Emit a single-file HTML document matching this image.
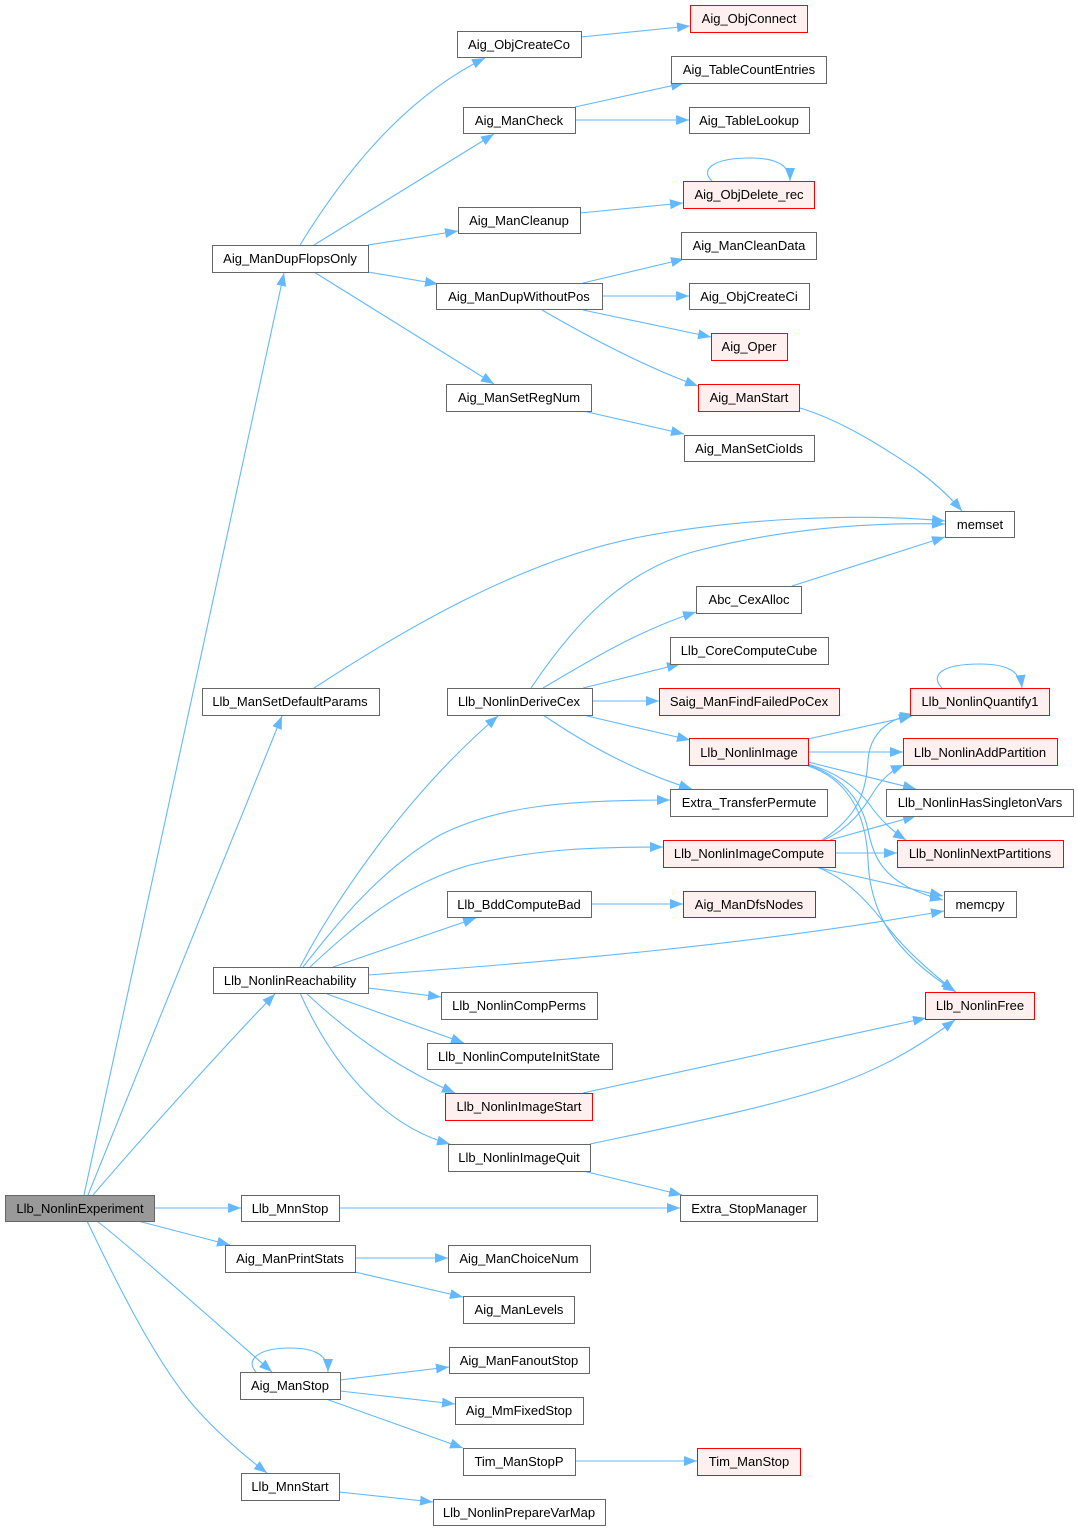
<!DOCTYPE html>
<html><head><meta charset="utf-8"><style>
html,body{margin:0;padding:0;background:#fff;}
svg{display:block;}
text{font-family:"Liberation Sans",Arial,sans-serif;font-size:13px;fill:#000;text-anchor:middle;}
.n{fill:#fff;stroke:#666;stroke-width:1;}
.r{fill:#fff0f0;stroke:#ff0000;stroke-width:1;}
.g{fill:#999;stroke:#666;stroke-width:1;}
.e{fill:none;stroke:#63b8ff;stroke-width:1.1;marker-end:url(#a);}
</style></head><body>
<svg width="1078" height="1531" viewBox="0 0 1078 1531" xmlns="http://www.w3.org/2000/svg">
<defs><marker id="a" markerUnits="userSpaceOnUse" markerWidth="14" markerHeight="11" refX="13" refY="5.5" orient="auto"><path d="M0,0.5 L13,5.5 L0,10.5 z" fill="#63b8ff"/></marker></defs>
<g>
<path class="e" d="M84,1195 L284,273"/>
<path class="e" d="M88,1195 L282,716"/>
<path class="e" d="M93,1195 C140,1140 230,1040 275,994"/>
<path class="e" d="M154,1208 L241,1208"/>
<path class="e" d="M138,1221 L230,1245"/>
<path class="e" d="M97,1221 C140,1255 230,1335 272,1372"/>
<path class="e" d="M87,1221 C120,1290 160,1370 200,1413 C225,1440 250,1460 267,1473"/>
<path class="e" d="M300,245 C340,180 400,100 485,58"/>
<path class="e" d="M314,245 L494,134"/>
<path class="e" d="M368,245 L458,231"/>
<path class="e" d="M368,272 L438,284"/>
<path class="e" d="M314,272 L494,384"/>
<path class="e" d="M581,37 L690,26"/>
<path class="e" d="M575,107 L684,83"/>
<path class="e" d="M575,120 L689,120"/>
<path class="e" d="M580,213 L683,203"/>
<path class="e" d="M712,181 C700,170 712,158 750,158 C775,158 790,165 790,181"/>
<path class="e" d="M583,283 L684,259"/>
<path class="e" d="M602,296 L689,296"/>
<path class="e" d="M583,310 L711,337"/>
<path class="e" d="M542,310 C580,332 640,365 698,386"/>
<path class="e" d="M583,411 L684,434"/>
<path class="e" d="M800,408 C840,420 880,445 917,470 C935,483 950,497 962,511"/>
<path class="e" d="M314,688 C400,632 520,560 640,537 C740,518 860,513 945,521"/>
<path class="e" d="M531,688 C570,630 620,570 700,550 C780,530 860,522 945,524"/>
<path class="e" d="M792,586 L945,537"/>
<path class="e" d="M543,688 C590,660 640,630 696,612"/>
<path class="e" d="M583,688 L680,664"/>
<path class="e" d="M592,701 L659,701"/>
<path class="e" d="M583,715 L690,740"/>
<path class="e" d="M543,715 C580,740 630,770 692,789"/>
<path class="e" d="M808,739 L912,716"/>
<path class="e" d="M808,752 L903,752"/>
<path class="e" d="M808,762 L916,789"/>
<path class="e" d="M808,764 C835,772 855,785 870,805 C880,820 895,833 906,840"/>
<path class="e" d="M808,765 C840,775 862,800 868,830 C874,860 885,885 943,900"/>
<path class="e" d="M808,766 C845,778 866,810 868,860 C870,910 890,950 956,992"/>
<path class="e" d="M822,840 C860,815 866,790 868,760 C870,735 885,720 913,714"/>
<path class="e" d="M824,840 C855,825 865,805 875,790 C883,778 892,770 904,765"/>
<path class="e" d="M830,840 L916,816"/>
<path class="e" d="M835,853 L897,853"/>
<path class="e" d="M815,867 L943,896"/>
<path class="e" d="M817,867 C850,880 870,905 890,930 C910,955 935,975 954,991"/>
<path class="e" d="M942,688 C930,676 940,664 980,664 C1005,664 1020,670 1022,688"/>
<path class="e" d="M300,967 C330,910 400,800 498,716"/>
<path class="e" d="M303,967 C340,920 380,870 440,835 C500,805 570,800 670,800"/>
<path class="e" d="M310,967 C350,930 400,885 470,865 C540,848 600,847 663,847"/>
<path class="e" d="M333,967 L476,918"/>
<path class="e" d="M368,975 C550,962 750,945 944,911"/>
<path class="e" d="M368,988 L441,997"/>
<path class="e" d="M327,994 L464,1043"/>
<path class="e" d="M306,993 C340,1025 390,1065 455,1093"/>
<path class="e" d="M300,993 C330,1060 380,1125 450,1144"/>
<path class="e" d="M591,904 L683,904"/>
<path class="e" d="M583,1093 L926,1018"/>
<path class="e" d="M590,1144 C680,1125 780,1105 840,1083 C890,1065 925,1042 955,1020"/>
<path class="e" d="M583,1171 L682,1195"/>
<path class="e" d="M339,1208 L680,1208"/>
<path class="e" d="M355,1258 L448,1258"/>
<path class="e" d="M355,1272 L463,1297"/>
<path class="e" d="M340,1380 L449,1367"/>
<path class="e" d="M340,1391 L455,1404"/>
<path class="e" d="M326,1399 L463,1448"/>
<path class="e" d="M256,1372 C245,1360 258,1348 290,1348 C315,1348 328,1355 328,1372"/>
<path class="e" d="M575,1461 L697,1461"/>
<path class="e" d="M339,1492 L433,1502"/>
</g>
<g>
<rect class="r" x="690.5" y="5.5" width="117" height="27"/><text x="749" y="23">Aig_ObjConnect</text>
<rect class="n" x="457.5" y="31.5" width="124" height="26"/><text x="519" y="49">Aig_ObjCreateCo</text>
<rect class="n" x="671.5" y="56.5" width="155" height="27"/><text x="749" y="74">Aig_TableCountEntries</text>
<rect class="n" x="463.5" y="107.5" width="112" height="26"/><text x="519" y="125">Aig_ManCheck</text>
<rect class="n" x="689.5" y="107.5" width="120" height="26"/><text x="749" y="125">Aig_TableLookup</text>
<rect class="r" x="683.5" y="181.5" width="131" height="27"/><text x="749" y="199">Aig_ObjDelete_rec</text>
<rect class="n" x="458.5" y="207.5" width="122" height="26"/><text x="519" y="225">Aig_ManCleanup</text>
<rect class="n" x="681.5" y="232.5" width="135" height="27"/><text x="749" y="250">Aig_ManCleanData</text>
<rect class="n" x="212.5" y="245.5" width="156" height="27"/><text x="290" y="263">Aig_ManDupFlopsOnly</text>
<rect class="n" x="436.5" y="283.5" width="166" height="26"/><text x="519" y="301">Aig_ManDupWithoutPos</text>
<rect class="n" x="689.5" y="283.5" width="120" height="26"/><text x="749" y="301">Aig_ObjCreateCi</text>
<rect class="r" x="711.5" y="333.5" width="76" height="27"/><text x="749" y="351">Aig_Oper</text>
<rect class="n" x="446.5" y="384.5" width="145" height="27"/><text x="519" y="402">Aig_ManSetRegNum</text>
<rect class="r" x="698.5" y="384.5" width="101" height="27"/><text x="749" y="402">Aig_ManStart</text>
<rect class="n" x="684.5" y="435.5" width="130" height="26"/><text x="749" y="453">Aig_ManSetCioIds</text>
<rect class="n" x="945.5" y="511.5" width="69" height="26"/><text x="980" y="529">memset</text>
<rect class="n" x="696.5" y="586.5" width="105" height="27"/><text x="749" y="604">Abc_CexAlloc</text>
<rect class="n" x="670.5" y="637.5" width="158" height="27"/><text x="749" y="655">Llb_CoreComputeCube</text>
<rect class="n" x="202.5" y="688.5" width="177" height="27"/><text x="290" y="706">Llb_ManSetDefaultParams</text>
<rect class="n" x="447.5" y="688.5" width="145" height="27"/><text x="519" y="706">Llb_NonlinDeriveCex</text>
<rect class="r" x="659.5" y="688.5" width="180" height="27"/><text x="749" y="706">Saig_ManFindFailedPoCex</text>
<rect class="r" x="910.5" y="688.5" width="139" height="27"/><text x="980" y="706">Llb_NonlinQuantify1</text>
<rect class="r" x="689.5" y="738.5" width="119" height="27"/><text x="749" y="757">Llb_NonlinImage</text>
<rect class="r" x="903.5" y="738.5" width="154" height="27"/><text x="980" y="757">Llb_NonlinAddPartition</text>
<rect class="n" x="670.5" y="789.5" width="157" height="27"/><text x="749" y="807">Extra_TransferPermute</text>
<rect class="n" x="886.5" y="789.5" width="187" height="27"/><text x="980" y="807">Llb_NonlinHasSingletonVars</text>
<rect class="r" x="663.5" y="840.5" width="172" height="27"/><text x="749" y="858">Llb_NonlinImageCompute</text>
<rect class="r" x="897.5" y="840.5" width="166" height="27"/><text x="980" y="858">Llb_NonlinNextPartitions</text>
<rect class="n" x="447.5" y="891.5" width="144" height="26"/><text x="519" y="909">Llb_BddComputeBad</text>
<rect class="r" x="683.5" y="891.5" width="132" height="26"/><text x="749" y="909">Aig_ManDfsNodes</text>
<rect class="n" x="944.5" y="891.5" width="72" height="26"/><text x="980" y="909">memcpy</text>
<rect class="n" x="213.5" y="967.5" width="155" height="26"/><text x="290" y="985">Llb_NonlinReachability</text>
<rect class="n" x="441.5" y="992.5" width="156" height="27"/><text x="519" y="1010">Llb_NonlinCompPerms</text>
<rect class="r" x="925.5" y="992.5" width="109" height="27"/><text x="980" y="1010">Llb_NonlinFree</text>
<rect class="n" x="427.5" y="1043.5" width="185" height="26"/><text x="519" y="1061">Llb_NonlinComputeInitState</text>
<rect class="r" x="445.5" y="1093.5" width="147" height="27"/><text x="519" y="1111">Llb_NonlinImageStart</text>
<rect class="n" x="448.5" y="1144.5" width="142" height="27"/><text x="519" y="1162">Llb_NonlinImageQuit</text>
<rect class="g" x="5.5" y="1195.5" width="149" height="26"/><text x="80" y="1213">Llb_NonlinExperiment</text>
<rect class="n" x="241.5" y="1195.5" width="98" height="26"/><text x="290" y="1213">Llb_MnnStop</text>
<rect class="n" x="680.5" y="1195.5" width="137" height="26"/><text x="749" y="1213">Extra_StopManager</text>
<rect class="n" x="225.5" y="1245.5" width="130" height="27"/><text x="290" y="1263">Aig_ManPrintStats</text>
<rect class="n" x="448.5" y="1245.5" width="142" height="27"/><text x="519" y="1263">Aig_ManChoiceNum</text>
<rect class="n" x="463.5" y="1296.5" width="111" height="27"/><text x="519" y="1314">Aig_ManLevels</text>
<rect class="n" x="449.5" y="1347.5" width="140" height="26"/><text x="519" y="1365">Aig_ManFanoutStop</text>
<rect class="n" x="240.5" y="1372.5" width="100" height="27"/><text x="290" y="1390">Aig_ManStop</text>
<rect class="n" x="455.5" y="1397.5" width="128" height="27"/><text x="519" y="1415">Aig_MmFixedStop</text>
<rect class="n" x="463.5" y="1448.5" width="112" height="27"/><text x="519" y="1466">Tim_ManStopP</text>
<rect class="r" x="697.5" y="1448.5" width="103" height="27"/><text x="749" y="1466">Tim_ManStop</text>
<rect class="n" x="241.5" y="1473.5" width="98" height="27"/><text x="290" y="1491">Llb_MnnStart</text>
<rect class="n" x="433.5" y="1499.5" width="172" height="26"/><text x="519" y="1517">Llb_NonlinPrepareVarMap</text>
</g>
</svg>
</body></html>
